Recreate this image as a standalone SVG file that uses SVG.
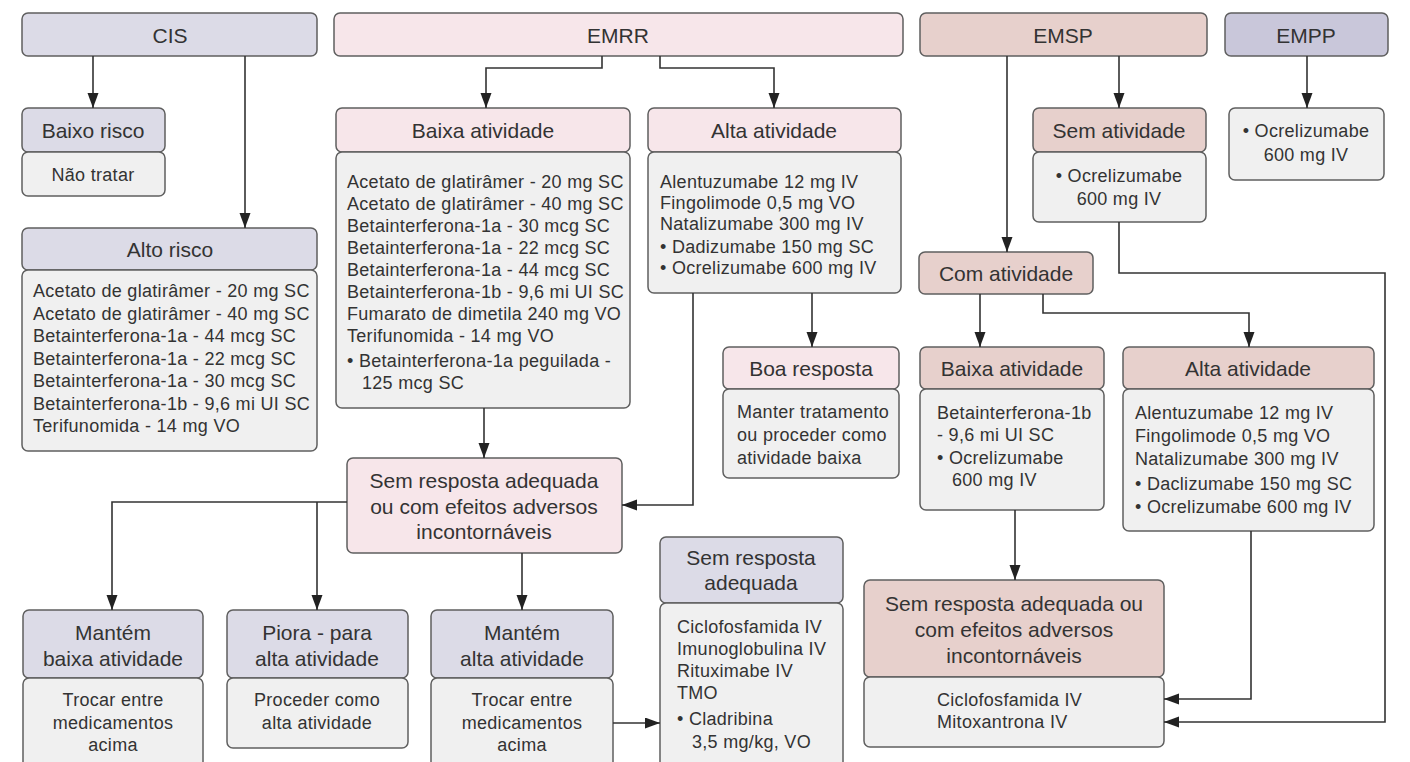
<svg xmlns="http://www.w3.org/2000/svg" width="1410" height="762" viewBox="0 0 1410 762">
<style>
rect{stroke:#5f5f5f;stroke-width:1.5}
.lav{fill:#dcdbe7}
.emp{fill:#c9c7da}
.pink{fill:#f7e6ea}
.rose{fill:#e7d0cc}
.bd{fill:#f0f0f0}
text{font-family:"Liberation Sans",Arial,sans-serif;fill:#333;dominant-baseline:central}
.h{font-size:21px;text-anchor:middle}
.t{font-size:18px;letter-spacing:0.3px}
.c{text-anchor:middle}
#connectors path{fill:none;stroke:#333;stroke-width:1.6;marker-end:url(#ah)}
</style>
<defs>
<marker id="ah" markerUnits="userSpaceOnUse" markerWidth="16" markerHeight="12" refX="15" refY="5.5" orient="auto">
<path d="M0,0 L15,5.5 L0,11 Z" fill="#222"/>
</marker>
</defs>
<rect x="0" y="0" width="1410" height="762" fill="#fff" style="stroke:none"/>

<g id="cis"><rect class="lav" x="22" y="13" width="295" height="43" rx="6"/><text class="h" x="170" y="35">CIS</text></g>
<g id="emrr"><rect class="pink" x="334" y="13" width="569" height="43" rx="6"/><text class="h" x="618" y="35">EMRR</text></g>
<g id="emsp"><rect class="rose" x="920" y="13" width="287" height="43" rx="6"/><text class="h" x="1063" y="35">EMSP</text></g>
<g id="empp"><rect class="emp" x="1225" y="13" width="163" height="43" rx="6"/><text class="h" x="1306" y="35">EMPP</text></g>

<g id="baixo-risco">
<rect class="lav" x="22" y="108" width="143" height="44" rx="6"/><text class="h" x="93" y="130">Baixo risco</text>
<rect class="bd" x="22" y="152" width="143" height="44" rx="6"/><text class="t c" x="93" y="175">Não tratar</text>
</g>

<g id="alto-risco">
<rect class="lav" x="22" y="228" width="295" height="42" rx="6"/><text class="h" x="170" y="249">Alto risco</text>
<rect class="bd" x="22" y="270" width="295" height="181" rx="6"/>
<text class="t" x="33" y="291">Acetato de glatirâmer - 20 mg SC</text>
<text class="t" x="33" y="313.5">Acetato de glatirâmer - 40 mg SC</text>
<text class="t" x="33" y="336">Betainterferona-1a - 44 mcg SC</text>
<text class="t" x="33" y="358.5">Betainterferona-1a - 22 mcg SC</text>
<text class="t" x="33" y="381">Betainterferona-1a - 30 mcg SC</text>
<text class="t" x="33" y="403.5">Betainterferona-1b - 9,6 mi UI SC</text>
<text class="t" x="33" y="426">Terifunomida - 14 mg VO</text>
</g>

<g id="emrr-baixa">
<rect class="pink" x="336" y="108" width="294" height="44" rx="6"/><text class="h" x="483" y="130">Baixa atividade</text>
<rect class="bd" x="336" y="152" width="294" height="256" rx="6"/>
<text class="t" x="347" y="182">Acetato de glatirâmer - 20 mg SC</text>
<text class="t" x="347" y="204">Acetato de glatirâmer - 40 mg SC</text>
<text class="t" x="347" y="226">Betainterferona-1a - 30 mcg SC</text>
<text class="t" x="347" y="248">Betainterferona-1a - 22 mcg SC</text>
<text class="t" x="347" y="270">Betainterferona-1a - 44 mcg SC</text>
<text class="t" x="347" y="292">Betainterferona-1b - 9,6 mi UI SC</text>
<text class="t" x="347" y="314">Fumarato de dimetila 240 mg VO</text>
<text class="t" x="347" y="336">Terifunomida - 14 mg VO</text>
<text class="t" x="347" y="361">• Betainterferona-1a peguilada -</text>
<text class="t" x="362" y="383">125 mcg SC</text>
</g>

<g id="emrr-alta">
<rect class="pink" x="648" y="108" width="253" height="44" rx="6"/><text class="h" x="774" y="130">Alta atividade</text>
<rect class="bd" x="648" y="152" width="253" height="141" rx="6"/>
<text class="t" x="660" y="182">Alentuzumabe 12 mg IV</text>
<text class="t" x="660" y="203">Fingolimode 0,5 mg VO</text>
<text class="t" x="660" y="224">Natalizumabe 300 mg IV</text>
<text class="t" x="660" y="247">• Dadizumabe 150 mg SC</text>
<text class="t" x="660" y="268">• Ocrelizumabe 600 mg IV</text>
</g>

<g id="boa-resposta">
<rect class="pink" x="723" y="347" width="176" height="42" rx="6"/><text class="h" x="811" y="368">Boa resposta</text>
<rect class="bd" x="723" y="389" width="176" height="89" rx="6"/>
<text class="t" x="737" y="412">Manter tratamento</text>
<text class="t" x="737" y="435">ou proceder como</text>
<text class="t" x="737" y="458">atividade baixa</text>
</g>

<g id="emrr-sem-resposta">
<rect class="pink" x="347" y="458" width="275" height="95" rx="6"/>
<text class="h" x="484" y="480">Sem resposta adequada</text>
<text class="h" x="484" y="506">ou com efeitos adversos</text>
<text class="h" x="484" y="531">incontornáveis</text>
</g>

<g id="mantem-baixa">
<rect class="lav" x="23" y="610" width="180" height="68" rx="6"/>
<text class="h" x="113" y="632">Mantém</text><text class="h" x="113" y="658">baixa atividade</text>
<rect class="bd" x="23" y="678" width="180" height="95" rx="6"/>
<text class="t c" x="113" y="700">Trocar entre</text><text class="t c" x="113" y="723">medicamentos</text><text class="t c" x="113" y="745">acima</text>
</g>

<g id="piora">
<rect class="lav" x="227" y="610" width="181" height="68" rx="6"/>
<text class="h" x="317" y="632">Piora - para</text><text class="h" x="317" y="658">alta atividade</text>
<rect class="bd" x="227" y="678" width="181" height="70" rx="6"/>
<text class="t c" x="317" y="700">Proceder como</text><text class="t c" x="317" y="723">alta atividade</text>
</g>

<g id="mantem-alta">
<rect class="lav" x="431" y="610" width="182" height="68" rx="6"/>
<text class="h" x="522" y="632">Mantém</text><text class="h" x="522" y="658">alta atividade</text>
<rect class="bd" x="431" y="678" width="182" height="95" rx="6"/>
<text class="t c" x="522" y="700">Trocar entre</text><text class="t c" x="522" y="723">medicamentos</text><text class="t c" x="522" y="745">acima</text>
</g>

<g id="sem-resposta-adequada">
<rect class="lav" x="660" y="537" width="183" height="66" rx="6"/>
<text class="h" x="751" y="557">Sem resposta</text><text class="h" x="751" y="582">adequada</text>
<rect class="bd" x="660" y="603" width="183" height="170" rx="6"/>
<text class="t" x="677" y="627">Ciclofosfamida IV</text>
<text class="t" x="677" y="649">Imunoglobulina IV</text>
<text class="t" x="677" y="671">Rituximabe IV</text>
<text class="t" x="677" y="693">TMO</text>
<text class="t" x="677" y="719">• Cladribina</text>
<text class="t" x="692" y="742">3,5 mg/kg, VO</text>
</g>

<g id="sem-atividade">
<rect class="rose" x="1033" y="108" width="173" height="44" rx="6"/><text class="h" x="1119" y="130">Sem atividade</text>
<rect class="bd" x="1033" y="152" width="173" height="70" rx="6"/>
<text class="t c" x="1119" y="176">• Ocrelizumabe</text><text class="t c" x="1119" y="199">600 mg IV</text>
</g>

<g id="empp-body">
<rect class="bd" x="1229" y="108" width="155" height="72" rx="6"/>
<text class="t c" x="1306" y="131">• Ocrelizumabe</text><text class="t c" x="1306" y="155">600 mg IV</text>
</g>

<g id="com-atividade">
<rect class="rose" x="919" y="252" width="174" height="42" rx="6"/><text class="h" x="1006" y="273">Com atividade</text>
</g>

<g id="emsp-baixa">
<rect class="rose" x="920" y="347" width="184" height="42" rx="6"/><text class="h" x="1012" y="368">Baixa atividade</text>
<rect class="bd" x="920" y="389" width="184" height="121" rx="6"/>
<text class="t" x="937" y="413">Betainterferona-1b</text>
<text class="t" x="937" y="435">- 9,6 mi UI SC</text>
<text class="t" x="937" y="458">• Ocrelizumabe</text>
<text class="t" x="952" y="480">600 mg IV</text>
</g>

<g id="emsp-alta">
<rect class="rose" x="1123" y="347" width="251" height="42" rx="6"/><text class="h" x="1248" y="368">Alta atividade</text>
<rect class="bd" x="1123" y="389" width="251" height="142" rx="6"/>
<text class="t" x="1135" y="413">Alentuzumabe 12 mg IV</text>
<text class="t" x="1135" y="436">Fingolimode 0,5 mg VO</text>
<text class="t" x="1135" y="459">Natalizumabe 300 mg IV</text>
<text class="t" x="1135" y="484">• Daclizumabe 150 mg SC</text>
<text class="t" x="1135" y="507">• Ocrelizumabe 600 mg IV</text>
</g>

<g id="emsp-sem-resposta">
<rect class="rose" x="864" y="580" width="300" height="97" rx="6"/>
<text class="h" x="1014" y="603">Sem resposta adequada ou</text>
<text class="h" x="1014" y="629">com efeitos adversos</text>
<text class="h" x="1014" y="655">incontornáveis</text>
<rect class="bd" x="864" y="677" width="300" height="70" rx="6"/>
<text class="t" x="937" y="700">Ciclofosfamida IV</text>
<text class="t" x="937" y="722">Mitoxantrona IV</text>
</g>

<g id="connectors">
<path d="M93,56 V108"/>
<path d="M245,56 V228"/>
<path d="M602,56 V68 H486 V108"/>
<path d="M660,56 V68 H774 V108"/>
<path d="M1007,56 V252"/>
<path d="M1119,56 V108"/>
<path d="M1307,56 V108"/>
<path d="M484,408 V458"/>
<path d="M812,293 V347"/>
<path d="M693,293 V505 H622"/>
<path d="M347,502 H112 V610"/>
<path d="M317,502 V610"/>
<path d="M522,553 V610"/>
<path d="M613,723 H660"/>
<path d="M980,294 V347"/>
<path d="M1043,294 V313 H1249 V347"/>
<path d="M1015,510 V580"/>
<path d="M1251,531 V699 H1164"/>
<path d="M1119,222 V273 H1385 V722 H1164"/>
</g>
</svg>
